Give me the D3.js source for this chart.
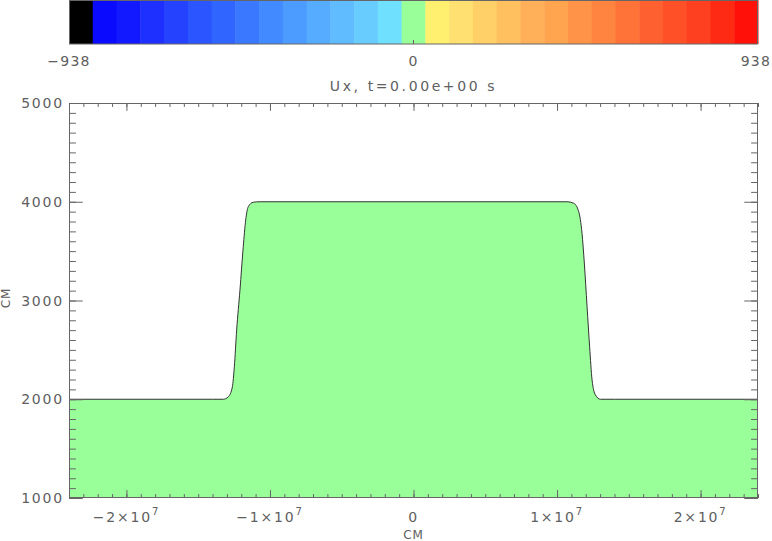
<!DOCTYPE html>
<html>
<head>
<meta charset="utf-8">
<script src="https://cdn.jsdelivr.net/npm/d3@7"></script>
<style>
  body { margin: 0; background: #fff; }
  svg { display: block; }
  text { font-family: "DejaVu Sans", sans-serif; fill: #606060; }
</style>
</head>
<body>
<svg id="chart" width="772" height="541"></svg>
<script>
// colour bar cells, left to right
var cbColors = ["#000000",
    "#0a0aff", "#1219ff", "#1e30ff", "#2442ff", "#2a55ff", "#3066ff", "#3a78ff",
    "#428aff", "#4c9cff", "#56acff", "#60bcff", "#68ccff", "#70e0ff",
    "#99ff99",
    "#fff070", "#ffe070", "#ffd068", "#ffc060", "#ffb058", "#ffa550", "#ff9448",
    "#ff8440", "#ff7238", "#ff6030", "#ff5028", "#ff4020", "#ff2a14", "#ff1008"];
var cbValues = [-938, 0, 938];
var cbLabels = ["\u2212938", "0", "938"];

// profile of the interface, x in cm, y in cm
var profX = [-2.4e7, -1.40e7, -1.325e7, -1.29e7, -1.262e7, -1.248e7, -1.232e7, -1.209e7,
    -1.186e7, -1.169e7, -1.151e7, -1.116e7, -1.069e7,
    1.070e7, 1.116e7, 1.151e7, 1.174e7, 1.190e7, 1.209e7, 1.227e7, 1.244e7,
    1.267e7, 1.302e7, 1.40e7, 2.4e7];
var profY = [2000, 2000, 2000, 2025, 2125, 2330, 2700, 3105,
    3545, 3815, 3950, 3995, 4000,
    4000, 3985, 3900, 3680, 3380, 2940, 2530, 2195,
    2045, 2000, 2000, 2000];

var xTicks = [-2e7, -1e7, 0, 1e7, 2e7];
var xTickLabels = ["\u22122", "\u22121", "0", "1", "2"];
var yTicks = [1000, 2000, 3000, 4000, 5000];
var yTickLabels = ["1000", "2000", "3000", "4000", "5000"];
var title = "Ux, t=0.00e+00 s";

var m = { left: 69, right: 14, top: 103, bottom: 43 };
var W = 772, H = 541;
var w = W - m.left - m.right;
var h = H - m.top - m.bottom;
var svg = d3.select("#chart");
var axisColor = "#666";
var fs = 14, ls = 1.8;

// ---- colour bar ----
var cb = svg.append("g");
var cbX = d3.scaleBand().domain(d3.range(cbColors.length)).range([m.left, m.left + w]);
cb.selectAll("rect.cell")
    .data(cbColors)
    .enter().append("rect")
    .attr("class", "cell")
    .attr("x", function (d, i) { return cbX(i); })
    .attr("y", 0)
    .attr("width", cbX.bandwidth() + 0.5)
    .attr("height", 44)
    .attr("fill", function (d) { return d; });
cb.append("rect")
    .attr("x", m.left + 0.5).attr("y", 0.5)
    .attr("width", w - 1).attr("height", 43.5)
    .attr("fill", "none").attr("stroke", axisColor);
var cbScale = d3.scaleLinear().domain([-938, 938]).range([m.left, m.left + w]);
cb.selectAll("line.tk")
    .data([0])
    .enter().append("line")
    .attr("class", "tk")
    .attr("x1", function (d) { return cbScale(d); })
    .attr("x2", function (d) { return cbScale(d); })
    .attr("y1", 44).attr("y2", 40)
    .attr("stroke", axisColor);
cb.selectAll("text")
    .data(cbValues)
    .enter().append("text")
    .attr("x", function (d) { return cbScale(d); })
    .attr("y", 66)
    .attr("text-anchor", "middle")
    .attr("font-size", fs)
    .attr("letter-spacing", 1.2)
    .text(function (d, i) { return cbLabels[i]; })
    .each(function () {
        // keep the end label inside the page
        var b = this.getBBox();
        if (b.x + b.width > W - 1) {
            d3.select(this).attr("x", +d3.select(this).attr("x") - (b.x + b.width - (W - 1)));
        }
    });

svg.append("text")
    .attr("x", m.left + w / 2)
    .attr("y", 91)
    .attr("text-anchor", "middle")
    .attr("font-size", fs)
    .attr("letter-spacing", 2.6)
    .text(title);

// ---- plot ----
var x = d3.scaleLinear().domain([-2.4e7, 2.4e7]).range([0, w]);
var y = d3.scaleLinear().domain([1000, 5000]).range([h, 0]);

var chart = svg.append("g")
    .attr("transform", "translate(" + m.left + "," + m.top + ")");

var pts = profX.map(function (d, i) { return { x: d, y: profY[i] }; });

var area = d3.area()
    .x(function (d) { return x(d.x); })
    .y0(h)
    .y1(function (d) { return y(d.y); })
    .curve(d3.curveMonotoneX);
var line = d3.line()
    .x(function (d) { return x(d.x); })
    .y(function (d) { return y(d.y); })
    .curve(d3.curveMonotoneX);

chart.append("path")
    .attr("d", area(pts))
    .attr("fill", "#99ff99");
chart.append("path")
    .attr("d", line(pts))
    .attr("fill", "none")
    .attr("stroke", "#333")
    .attr("stroke-width", 1);

// ticks: IDL style, inward, on all four sides
var xLen = 0.02 * h, yLen = 0.02 * w;
var xMinor = d3.range(-2.4e7, 2.4e7 + 1, 1e6);
var yMinor = d3.range(1000, 5001, 100);

function drawAxis(axis, tr) {
    chart.append("g")
        .attr("transform", tr)
        .call(axis)
        .call(function (g) {
            g.select(".domain").remove();
            g.selectAll("line").attr("stroke", axisColor);
            g.selectAll("text").remove();
        });
}
drawAxis(d3.axisBottom(x).tickValues(xMinor).tickSize(-xLen / 2), "translate(0," + h + ")");
drawAxis(d3.axisBottom(x).tickValues(xTicks).tickSize(-xLen), "translate(0," + h + ")");
drawAxis(d3.axisTop(x).tickValues(xMinor).tickSize(-xLen / 2), "translate(0,0)");
drawAxis(d3.axisTop(x).tickValues(xTicks).tickSize(-xLen), "translate(0,0)");
drawAxis(d3.axisLeft(y).tickValues(yMinor).tickSize(-yLen / 2), "translate(0,0)");
drawAxis(d3.axisLeft(y).tickValues(yTicks).tickSize(-yLen), "translate(0,0)");
drawAxis(d3.axisRight(y).tickValues(yMinor).tickSize(-yLen / 2), "translate(" + w + ",0)");
drawAxis(d3.axisRight(y).tickValues(yTicks).tickSize(-yLen), "translate(" + w + ",0)");

chart.append("rect")
    .attr("x", 0.5).attr("y", 0.5)
    .attr("width", w - 1).attr("height", h - 1)
    .attr("fill", "none")
    .attr("stroke", axisColor);

// tick labels
var xl = chart.append("g").selectAll("text")
    .data(xTicks)
    .enter().append("text")
    .attr("x", function (d) { return x(d); })
    .attr("y", h + 24)
    .attr("text-anchor", "middle")
    .attr("font-size", fs)
    .attr("letter-spacing", ls);
xl.each(function (d, i) {
    var t = d3.select(this);
    if (d === 0) { t.text(xTickLabels[i]); return; }
    t.append("tspan").text(xTickLabels[i] + "\u00d710");
    t.append("tspan").attr("dy", -7).attr("font-size", 10).text("7");
});

chart.append("g").selectAll("text")
    .data(yTicks)
    .enter().append("text")
    .attr("x", -5)
    .attr("y", function (d) { return y(d) + 5; })
    .attr("text-anchor", "end")
    .attr("font-size", fs)
    .attr("letter-spacing", ls)
    .text(function (d, i) { return yTickLabels[i]; });

svg.append("text")
    .attr("x", m.left + w / 2)
    .attr("y", 539)
    .attr("text-anchor", "middle")
    .attr("font-size", 12)
    .attr("letter-spacing", 1)
    .text("CM");
svg.append("text")
    .attr("transform", "translate(10," + (m.top + 195) + ") rotate(-90)")
    .attr("text-anchor", "middle")
    .attr("font-size", 12)
    .attr("letter-spacing", 1)
    .text("CM");
</script>
</body>
</html>
